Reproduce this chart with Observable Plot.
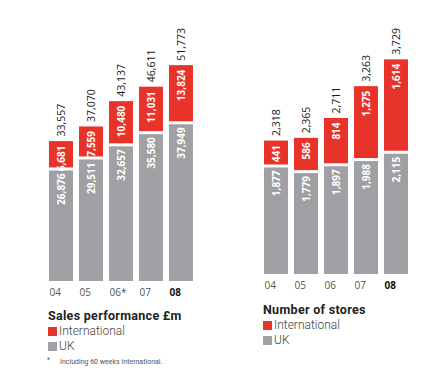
<!DOCTYPE html>
<html>
<head>
<meta charset="utf-8">
<script src="https://cdn.jsdelivr.net/npm/d3@7"></script>
<script src="https://cdn.jsdelivr.net/npm/@observablehq/plot@0.6"></script>
<style>
  html, body { margin: 0; padding: 0; background: #fff; }
  body { width: 426px; height: 373px; position: relative; overflow: hidden; font-family: Roboto, "Open Sans", sans-serif; }
  .chart { position: absolute; top: 0; }
  .title { position: absolute; font-weight: 700; font-size: 12.5px; letter-spacing: 0.3px; line-height: 12px; color: #222; white-space: nowrap; }
  .leg { position: absolute; font-size: 12px; font-weight: 300; color: #444; white-space: nowrap; line-height: 12px; }
  .sw { display: inline-block; width: 9px; height: 9px; vertical-align: -1px; margin-right: 2px; }
  .note { position: absolute; font-size: 7px; line-height: 8px; color: #555; white-space: nowrap; }
</style>
</head>
<body>
<div id="left" class="chart" style="left:0px"></div>
<div id="right" class="chart" style="left:215px"></div>

<div class="title" style="left:48px; top:310px;">Sales performance £m</div>
<div class="leg" style="left:48px; top:325px;"><span class="sw" style="background:#e8332a"></span>International</div>
<div class="leg" style="left:48px; top:340px;"><span class="sw" style="background:#a09fa4"></span>UK</div>
<div class="note" style="left:47px; top:356px;">*</div>
<div class="note" style="left:60px; top:358px;">Including 60 weeks International.</div>

<div class="title" style="left:263px; top:304px;">Number of stores</div>
<div class="leg" style="left:263px; top:319px;"><span class="sw" style="background:#e8332a"></span>International</div>
<div class="leg" style="left:263px; top:334px;"><span class="sw" style="background:#a09fa4"></span>UK</div>

<script>
const years = ["04", "05", "06", "07", "08"];
const salesTickLabels = ["04", "05", "06*", "07", "08"];
const storesTickLabels = ["04", "05", "06", "07", "08"];
const salesUK = [26876, 29511, 32657, 35580, 37949];
const salesIntl = [6681, 7559, 10480, 11031, 13824];
const storesUK = [1877, 1779, 1897, 1988, 2115];
const storesIntl = [441, 586, 814, 1275, 1614];

const RED = "#e8332a";
const GRAY = "#a09fa4";
const fmt = d3.format(",");

function makeChart(uk, intl, ticks, yMax, marginBottom) {
  const data = years.map((y, i) => ({
    year: y, tick: ticks[i], uk: uk[i], intl: intl[i], total: uk[i] + intl[i]
  }));
  return Plot.plot({
    width: 210,
    height: 300,
    marginLeft: 49,
    marginRight: 17,
    marginTop: 0,
    marginBottom: marginBottom,
    style: { fontFamily: "'Open Sans', 'Noto Sans', sans-serif", background: "transparent" },
    x: { domain: years, paddingInner: 0.2, paddingOuter: 0, axis: null },
    y: { domain: [0, yMax], axis: null },
    marks: [
      Plot.barY(data, { x: "year", y1: 0, y2: "uk", fill: GRAY, insetTop: 1.5 }),
      Plot.barY(data, { x: "year", y1: "uk", y2: "total", fill: RED, insetBottom: 1.5 }),
      Plot.text(data, { x: "year", y: "uk", text: d => fmt(d.uk), rotate: -90, textAnchor: "end", lineAnchor: "middle", dy: 4, fill: "white", fontWeight: 700, fontSize: 10 }),
      Plot.text(data, { x: "year", y: "total", text: d => fmt(d.intl), rotate: -90, textAnchor: "end", lineAnchor: "middle", dy: 4, fill: "white", fontWeight: 700, fontSize: 10 }),
      Plot.text(data, { x: "year", y: "total", text: d => fmt(d.total), rotate: -90, textAnchor: "start", lineAnchor: "middle", dy: -5, fill: "#1a1a1a", fontSize: 10.5 }),
      Plot.text(data.filter(d => d.year !== "08"), { x: "year", y: 0, text: "tick", textAnchor: "start", lineAnchor: "middle", dx: -12, dy: 11, fill: "#555", fontSize: 10 }),
      Plot.text(data.filter(d => d.year === "08"), { x: "year", y: 0, text: "tick", textAnchor: "start", lineAnchor: "middle", dx: -12, dy: 11, fill: "#111", fontWeight: 700, fontSize: 10 })
    ]
  });
}

document.getElementById("left").appendChild(makeChart(salesUK, salesIntl, salesTickLabels, 67400, 19));
document.getElementById("right").appendChild(makeChart(storesUK, storesIntl, storesTickLabels, 4760, 26));
</script>
</body>
</html>
